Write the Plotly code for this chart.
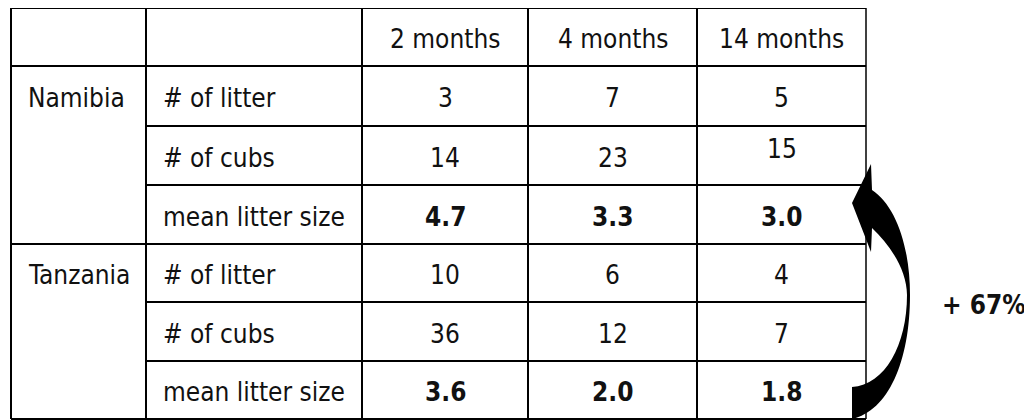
import plotly.graph_objects as go

# ---------------- data ----------------
columns = ["2 months", "4 months", "14 months"]
countries = ["Namibia", "Tanzania"]
measures = ["# of litter", "# of cubs", "mean litter size"]
namibia_litters = [3, 7, 5]
namibia_cubs = [14, 23, 15]
namibia_mean = [4.7, 3.3, 3.0]
tanzania_litters = [10, 6, 4]
tanzania_cubs = [36, 12, 7]
tanzania_mean = [3.6, 2.0, 1.8]
change_label = "+ 67%"

# ---------------- layout / style ----------------
W, H = 1032, 420
PAGE_OFF = 8  # default body margin of the html page
FONT = "DejaVu Sans Condensed, DejaVu Sans, Verdana, sans-serif"
FS = 26
col_edges = [11, 146, 362, 528, 697, 866]
row_edges = [8, 66, 126, 185, 244, 302, 361, 419]
LW = 2
text_dy = 2
cell_dy = {(0, 1, 2): -9}   # the raised "15" cell

groups = [
    [namibia_litters, namibia_cubs, namibia_mean],
    [tanzania_litters, tanzania_cubs, tanzania_mean],
]

fig = go.Figure()
fig.add_trace(go.Scatter(x=[PAGE_OFF, W], y=[PAGE_OFF, H], mode="markers",
                         marker=dict(opacity=0), hoverinfo="skip", showlegend=False))

shapes = []
def hline(y, x0, x1, w=LW):
    shapes.append(dict(type="line", xref="x", yref="y", x0=x0, x1=x1, y0=y, y1=y,
                       line=dict(color="black", width=w)))
def vline(x, y0, y1, w=LW):
    shapes.append(dict(type="line", xref="x", yref="y", x0=x, x1=x, y0=y0, y1=y1,
                       line=dict(color="black", width=w)))

left, right = col_edges[0], col_edges[-1]
top, bottom = row_edges[0], row_edges[-1]
hline(top, left, right)
hline(bottom, left, right)
hline(row_edges[1], left, right)
n_meas = len(measures)
for gi in range(len(countries)):
    base = 1 + gi * n_meas
    for r in range(1, n_meas):
        hline(row_edges[base + r], col_edges[1], right)
    if gi > 0:
        hline(row_edges[base], left, right)
for i, x in enumerate(col_edges):
    vline(x, top, bottom, w=1.5 if i == len(col_edges) - 1 else LW)

annotations = []
def txt(x, y, s, xanchor="center", bold=False):
    annotations.append(dict(x=x, y=y, xref="x", yref="y", text=f"<b>{s}</b>" if bold else s,
                            showarrow=False, xanchor=xanchor, yanchor="middle",
                            font=dict(family=FONT, size=FS, color="#111111")))

def ymid(r):
    return (row_edges[r] + row_edges[r + 1]) / 2 + text_dy

def xmid(c):
    return (col_edges[c] + col_edges[c + 1]) / 2

for ci, c in enumerate(columns):
    txt(xmid(ci + 2), ymid(0), c)

for gi, (country, rows) in enumerate(zip(countries, groups)):
    base = 1 + gi * n_meas
    txt(col_edges[0] + 15, ymid(base), country, xanchor="left")
    for r, (m, vals) in enumerate(zip(measures, rows)):
        ri = base + r
        txt(col_edges[1] + 15, ymid(ri), m, xanchor="left")
        is_mean = r == n_meas - 1
        for ci, v in enumerate(vals):
            s = f"{v:.1f}" if is_mean else f"{v}"
            txt(xmid(ci + 2), ymid(ri) + cell_dy.get((gi, r, ci), 0), s, bold=is_mean)

# curved arrow from Tanzania mean (14 months) up to Namibia mean (14 months)
arrow_path = ("M 852,419 C 888,411 910,362 910,295 "
              "C 910,245 895,205 872,190 L 871,164 L 852,203 L 871,252 L 872,228 "
              "C 890,245 907,270 907,295 C 907,345 885,385 852,387 Z")
shapes.append(dict(type="path", xref="x", yref="y", path=arrow_path,
                   fillcolor="black", line=dict(width=0), layer="above"))
txt(984, 305, change_label, bold=True)

fig.update_layout(
    width=W - PAGE_OFF, height=H - PAGE_OFF,
    margin=dict(l=0, r=0, t=0, b=0),
    paper_bgcolor="white", plot_bgcolor="white",
    xaxis=dict(range=[PAGE_OFF, W], visible=False, fixedrange=True),
    yaxis=dict(range=[H, PAGE_OFF], visible=False, fixedrange=True),
    shapes=shapes, annotations=annotations, showlegend=False,
)
fig.write_html("out.html")
